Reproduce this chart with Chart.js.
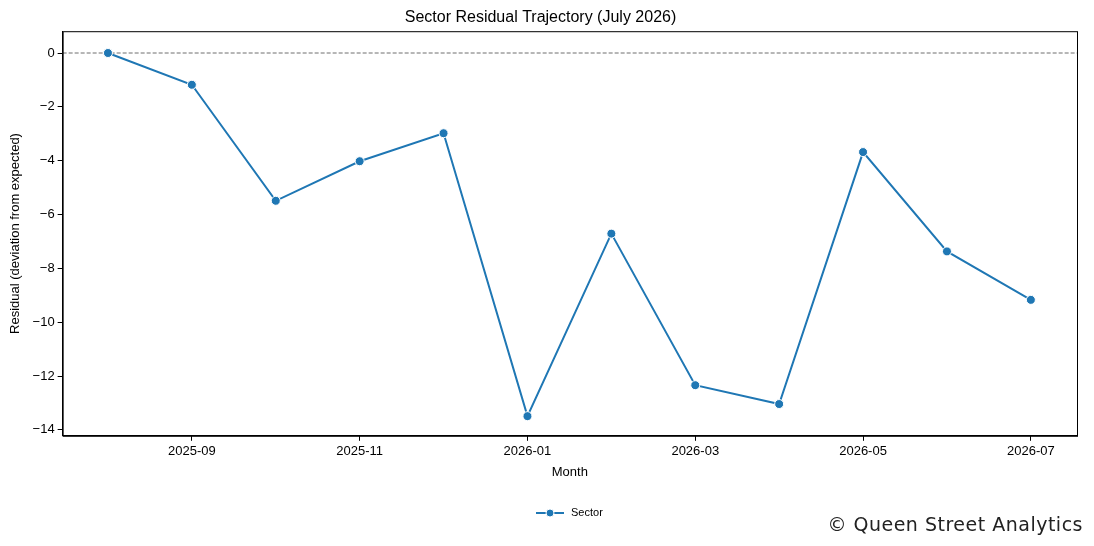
<!DOCTYPE html>
<html>
<head>
<meta charset="utf-8">
<script src="https://cdn.jsdelivr.net/npm/chart.js@4"></script>
<style>
  html, body { margin: 0; padding: 0; background: #fff; }
  #wrap { position: relative; width: 1094px; height: 546px; }
  #mark { position: absolute; right: 11px; bottom: 11px; font: 19px "DejaVu Sans", sans-serif; color: #222; letter-spacing: 0.5px; }
</style>
</head>
<body>
<div id="wrap">
  <canvas id="c" width="1094" height="546"></canvas>
  <div id="mark">© Queen Street Analytics</div>
</div>
<script>
const months = ['2025-08', '2025-09', '2025-10', '2025-11', '2025-12', '2026-01',
                '2026-02', '2026-03', '2026-04', '2026-05', '2026-06', '2026-07'];
const residuals = [0, -1.18, -5.49, -4.02, -2.98, -13.49, -6.71, -12.34, -13.04, -3.68, -7.37, -9.17];
const yTicks = [0, -2, -4, -6, -8, -10, -12, -14];

const blue = '#1f77b4';

// frame, dashed zero line and a matplotlib-like legend
const frame = {
  id: 'frame',
  beforeDatasetsDraw(chart) {
    const { ctx, chartArea: a, scales } = chart;
    const y0 = scales.y.getPixelForValue(0);
    ctx.save();
    ctx.strokeStyle = '#6e6e6e';
    ctx.lineWidth = 1;
    ctx.setLineDash([4, 2]);
    ctx.beginPath();
    ctx.moveTo(a.left, y0);
    ctx.lineTo(a.right, y0);
    ctx.stroke();
    ctx.restore();
  },
  afterDraw(chart) {
    const { ctx, chartArea: a } = chart;
    ctx.save();
    ctx.strokeStyle = '#000';
    ctx.lineWidth = 1;
    ctx.strokeRect(a.left + 0.5, a.top + 0.5, a.right - a.left, a.bottom - a.top);
    // legend
    const lx = 536, ly = 513;
    ctx.strokeStyle = blue;
    ctx.lineWidth = 2;
    ctx.beginPath();
    ctx.moveTo(lx, ly);
    ctx.lineTo(lx + 28, ly);
    ctx.stroke();
    ctx.fillStyle = blue;
    ctx.strokeStyle = '#fff';
    ctx.lineWidth = 1;
    ctx.beginPath();
    ctx.arc(lx + 14, ly, 4, 0, Math.PI * 2);
    ctx.fill();
    ctx.stroke();
    ctx.fillStyle = '#000';
    ctx.font = '11px Liberation Sans, Arial, sans-serif';
    ctx.textBaseline = 'middle';
    ctx.fillText(chart.data.datasets[0].label, lx + 35, ly);
    ctx.restore();
  },
};

const font = { family: 'Liberation Sans, Arial, sans-serif', size: 13 };

new Chart(document.getElementById('c'), {
  type: 'line',
  data: {
    datasets: [{
      label: 'Sector',
      data: residuals.map((v, i) => ({ x: i, y: v })),
      borderColor: blue,
      backgroundColor: blue,
      borderWidth: 2,
      pointRadius: 4.5,
      pointBorderColor: '#fff',
      pointBorderWidth: 1,
      tension: 0,
    }],
  },
  options: {
    responsive: false,
    animation: false,
    layout: { padding: { left: 4, right: 17, top: 0, bottom: 62 } },
    plugins: {
      title: { display: true, text: 'Sector Residual Trajectory (July 2026)', color: '#000',
               font: { ...font, size: 16, weight: 'normal' }, padding: { top: 8, bottom: 4 } },
      legend: { display: false },
      tooltip: { enabled: false },
    },
    scales: {
      x: {
        type: 'linear', min: -0.54, max: 11.55,
        grid: { display: true, drawOnChartArea: false, drawTicks: true, tickLength: 5, color: '#000' },
        border: { color: '#000' },
        afterBuildTicks(s) { s.ticks = months.map((m, i) => ({ value: i })).filter(t => t.value % 2 === 1); },
        ticks: { color: '#000', font, callback: v => months[v], padding: 3 },
        title: { display: true, text: 'Month', color: '#000', font, padding: { top: 2 } },
      },
      y: {
        min: -14.22, max: 0.81,
        grid: { display: true, drawOnChartArea: false, drawTicks: true, tickLength: 5, color: '#000' },
        border: { color: '#000' },
        afterBuildTicks(s) { s.ticks = yTicks.map(v => ({ value: v })); },
        ticks: { color: '#000', font, padding: 3, callback: v => String(v).replace('-', '\u2212') },
        title: { display: true, text: 'Residual (deviation from expected)', color: '#000', font, padding: { bottom: 6 } },
      },
    },
  },
  plugins: [frame],
});
</script>
</body>
</html>
